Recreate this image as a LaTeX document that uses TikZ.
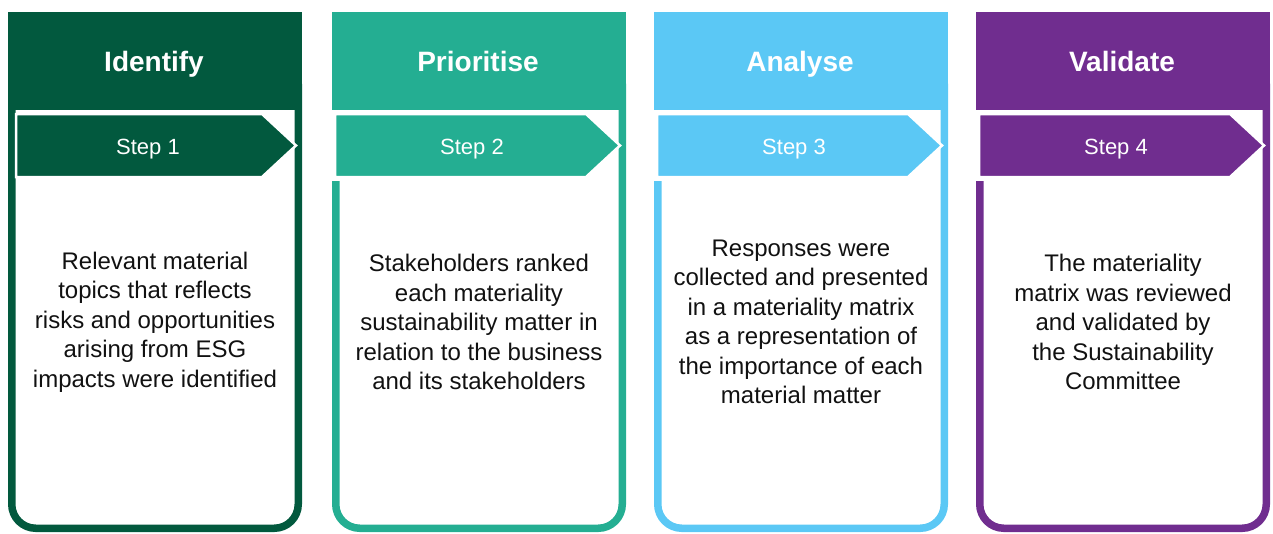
\documentclass[tikz,border=0pt]{standalone}
\usepackage{fontspec}
\setmainfont{Liberation Sans}
\definecolor{cgreen}{HTML}{02593E}
\definecolor{cteal}{HTML}{24AE92}
\definecolor{cblue}{HTML}{5BC8F5}
\definecolor{cpurple}{HTML}{702D8F}
\definecolor{bodyink}{HTML}{111111}
\tikzset{
  headtext/.style={text=white, font=\fontsize{28}{32}\selectfont\bfseries, inner sep=0pt, anchor=base},
  steptext/.style={text=white, font=\fontsize{22}{26}\selectfont, inner sep=0pt, anchor=base},
  bodytext/.style={text=bodyink, font=\fontsize{24}{29.5}\selectfont, align=center, inner sep=0pt},
  outline/.style={line width=7.5, rounded corners=24},
  steparrow/.style={draw=white, line width=2.5},
}
% #1 x, #2 colour, #3 name, #4 title, #5 step, #6 body, #7 erase edge, #8 arrow left
\newcommand\stagecol[8]{%
  \draw[outline, draw=#2] ({#1+3.75},-60) rectangle ({#1+290.25},-528.25);
  \fill[#2] (#1,-12) rectangle ({#1+294},-110);
  \node[headtext] (#3h) at ({#1+146},-71) {#4};
  \fill[white] ({#1-1},-110) rectangle ({#1+#7},-181);
  \filldraw[steparrow, fill=#2] ({#1+#8},-114) -- ({#1+254},-114) -- ({#1+288},-145.5)
     -- ({#1+254},-177) -- ({#1+#8},-177) -- cycle;
  \node[steptext] (#3s) at ({#1+140},-154) {#5};
  \node[bodytext] (#3b) at ({#1+147},-322) {#6};
}
\begin{document}
\begin{tikzpicture}[x=1pt, y=1pt]
\useasboundingbox (0,0) rectangle (1273,-533);
\stagecol{8}{cgreen}{identify}{Identify}{Step 1}{Relevant material\\topics that reflects\\risks and opportunities\\arising from ESG\\impacts were identified}{-1}{8}
\stagecol{332}{cteal}{prioritise}{Prioritise}{Step 2}{Stakeholders ranked\\each materiality\\sustainability matter in\\relation to the business\\and its stakeholders}{8}{3}
\stagecol{654}{cblue}{analyse}{Analyse}{Step 3}{Responses were\\collected and presented\\in a materiality matrix\\as a representation of\\the importance of each\\material matter}{8}{3}
\stagecol{976}{cpurple}{validate}{Validate}{Step 4}{The materiality\\matrix was reviewed\\and validated by\\the Sustainability\\Committee}{8}{3}
\end{tikzpicture}
\end{document}
